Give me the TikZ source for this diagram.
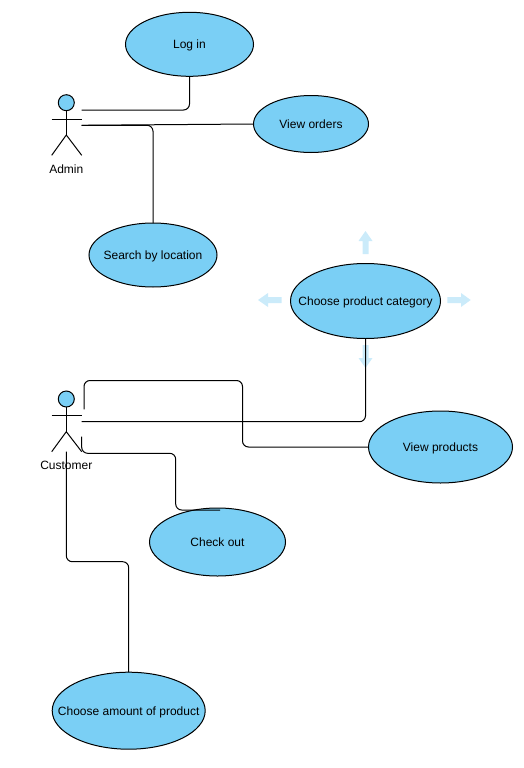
\documentclass[tikz,border=0pt]{standalone}
\usepackage{fontspec}
\setmainfont{Liberation Sans}
\usetikzlibrary{shapes.geometric}
\definecolor{ucfill}{HTML}{7ACFF5}
\definecolor{hint}{HTML}{CBEBFA}
\newcommand{\uctext}[1]{\makebox[0pt]{\smash{\raisebox{-4.5pt}{#1}}}}
\tikzset{
  usecase/.style={ellipse,draw=black,fill=ucfill,line width=1pt,inner sep=0pt,outer sep=0pt,font=\fontsize{12}{14}\selectfont,text=black},
  link/.style={draw=black,line width=1pt,rounded corners=6pt},
  actorline/.style={draw=black,line width=1pt},
  actorhead/.style={circle,draw=black,fill=ucfill,line width=1pt,inner sep=0pt,outer sep=0pt,minimum size=16pt},
  actorlabel/.style={inner sep=0pt,font=\fontsize{12}{14}\selectfont,text=black},
  hintarrow/.style={fill=hint,draw=none}
}
\begin{document}
\begin{tikzpicture}[x=1pt,y=-1pt]
\useasboundingbox (0,0) rectangle (524,768);
% pale direction arrows
\fill[hintarrow] (362.5,254) -- (362.5,241) -- (358.5,241) -- (365.5,231) -- (372.5,241) -- (368.5,241) -- (368.5,254) -- cycle;
\fill[hintarrow] (362.5,345) -- (362.5,358) -- (358.5,358) -- (365.5,368) -- (372.5,358) -- (368.5,358) -- (368.5,345) -- cycle;
\fill[hintarrow] (281.7,297) -- (268,297) -- (268,293) -- (258,300) -- (268,307) -- (268,303) -- (281.7,303) -- cycle;
\fill[hintarrow] (447.3,297) -- (461,297) -- (461,293) -- (470.7,300) -- (461,307) -- (461,303) -- (447.3,303) -- cycle;
% use cases
\node[usecase,minimum width=128pt,minimum height=64pt] (login) at (189.5,44.3) {\uctext{Log in}};
\node[usecase,minimum width=115pt,minimum height=57pt] (orders) at (311,124) {\uctext{View orders}};
\node[usecase,minimum width=128pt,minimum height=64pt] (search) at (153,255) {\uctext{Search by location}};
\node[usecase,minimum width=150pt,minimum height=75pt] (category) at (365.5,301) {\uctext{Choose product category}};
\node[usecase,minimum width=144pt,minimum height=72pt] (products) at (440.5,447) {\uctext{View products}};
\node[usecase,minimum width=136pt,minimum height=68pt] (checkout) at (217.5,542) {\uctext{Check out}};
\node[usecase,minimum width=153pt,minimum height=77pt] (amount) at (128.7,710.7) {\uctext{Choose amount of product}};
% Admin actor
\node[actorhead] (adminhead) at (66.3,102.7) {};
\coordinate (adminhip) at (66.3,135);
\coordinate (adminarmL) at (51.7,119);
\coordinate (adminarmR) at (81.7,119);
\coordinate (adminfootL) at (51.7,155.3);
\coordinate (adminfootR) at (81.7,155.3);
\draw[actorline] (adminhead.south) -- (adminhip);
\draw[actorline] (adminarmL) -- (adminarmR);
\draw[actorline] (adminfootL) -- (adminhip) -- (adminfootR);
\node[actorlabel] (adminlabel) at (66.3,169) {Admin};
% Customer actor
\node[actorhead] (custhead) at (66.3,399) {};
\coordinate (custhip) at (66.3,431.7);
\coordinate (custarmL) at (51.7,415);
\coordinate (custarmR) at (81.7,415);
\coordinate (custfootL) at (51.7,451.7);
\coordinate (custfootR) at (81.7,451.7);
\draw[actorline] (custhead.south) -- (custhip);
\draw[actorline] (custarmL) -- (custarmR);
\draw[actorline] (custfootL) -- (custhip) -- (custfootR);
\node[actorlabel] (custlabel) at (66.3,465) {Customer};
% free ends of connectors at the actors
\coordinate (a1) at (81.7,110);
\coordinate (a2) at (81.7,125.3);
\coordinate (c1) at (84,409.3);
\coordinate (c2) at (81.7,421.7);
\coordinate (c3) at (81.7,436.7);
\coordinate (c4) at (66.3,451.7);
\coordinate (checkoutend) at (220,510);
% connectors
\draw[link] (a1) -| (login.south);
\draw[link] (a2) -- (orders.west);
\draw[link] (a2) -| (search.north);
\draw[link] (c2) -| (category.south);
\draw[link] (c1) |- (242.5,380.5) |- (products.west);
\draw[link] (c3) |- (175.7,453.3) |- (checkoutend);
\draw[link] (c4) |- (amount.north |- 0,561.7) -- (amount.north);
\end{tikzpicture}
\end{document}
